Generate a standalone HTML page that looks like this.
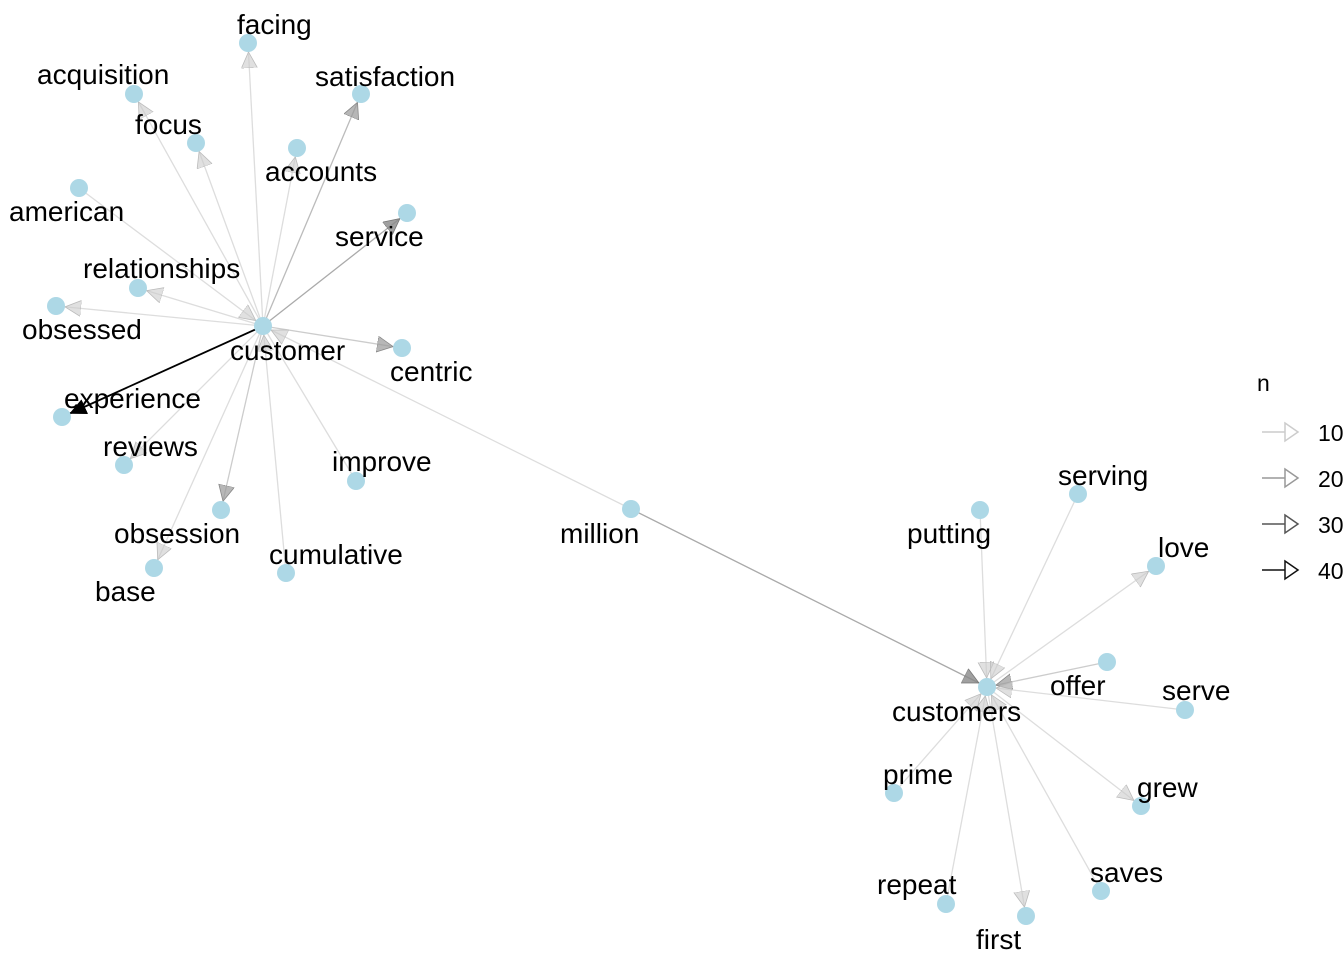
<!DOCTYPE html>
<html><head><meta charset="utf-8"><style>
html,body{margin:0;padding:0;background:#fff;}
svg{display:block;}
text{font-family:"Liberation Sans",Arial,sans-serif;font-size:28px;fill:#000;}
</style></head><body>
<svg width="1344" height="960" viewBox="0 0 1344 960" xmlns="http://www.w3.org/2000/svg">
<defs>
<marker id="aL" markerUnits="userSpaceOnUse" markerWidth="40" markerHeight="20" refX="25" refY="8" orient="auto"><path d="M0,0 L16,8 L0,16 Z" fill="#ccc" fill-opacity="0.6" stroke="#bbb" stroke-width="0.8"/></marker>
<marker id="aM" markerUnits="userSpaceOnUse" markerWidth="40" markerHeight="20" refX="25" refY="8" orient="auto"><path d="M0,0 L16,8 L0,16 Z" fill="#999" fill-opacity="0.7" stroke="#888" stroke-width="0.8"/></marker>
<marker id="aD" markerUnits="userSpaceOnUse" markerWidth="40" markerHeight="20" refX="25" refY="8" orient="auto"><path d="M0,0 L16,8 L0,16 Z" fill="#888" fill-opacity="0.8" stroke="#777" stroke-width="0.8"/></marker>
<marker id="aB" markerUnits="userSpaceOnUse" markerWidth="40" markerHeight="20" refX="25" refY="8" orient="auto"><path d="M0,0 L17,8 L0,16 Z" fill="#000"/></marker>
</defs>
<g stroke-width="1.3" fill="none">
<line x1="263" y1="326" x2="248" y2="43" stroke="#ddd" marker-end="url(#aL)"/>
<line x1="263" y1="326" x2="134" y2="94" stroke="#ddd" marker-end="url(#aL)"/>
<line x1="263" y1="326" x2="196" y2="143" stroke="#ddd" marker-end="url(#aL)"/>
<line x1="263" y1="326" x2="297" y2="148" stroke="#ddd" marker-end="url(#aL)"/>
<line x1="263" y1="326" x2="361" y2="94" stroke="#bbb" marker-end="url(#aM)"/>
<line x1="263" y1="326" x2="407" y2="213" stroke="#aaa" marker-end="url(#aD)"/>
<line x1="79" y1="188" x2="263" y2="326" stroke="#ddd" marker-end="url(#aL)"/>
<line x1="263" y1="326" x2="138" y2="288" stroke="#ddd" marker-end="url(#aL)"/>
<line x1="263" y1="326" x2="56" y2="306" stroke="#ddd" marker-end="url(#aL)"/>
<line x1="263" y1="326" x2="402" y2="348" stroke="#ccc" marker-end="url(#aM)"/>
<line x1="263" y1="326" x2="62" y2="417" stroke="#000" stroke-width="1.8" marker-end="url(#aB)"/>
<line x1="263" y1="326" x2="124" y2="465" stroke="#ddd" marker-end="url(#aL)"/>
<line x1="356" y1="481" x2="263" y2="326" stroke="#ddd"/>
<line x1="263" y1="326" x2="221" y2="510" stroke="#ccc" marker-end="url(#aM)"/>
<line x1="263" y1="326" x2="154" y2="568" stroke="#ddd" marker-end="url(#aL)"/>
<line x1="286" y1="573" x2="263" y2="326" stroke="#ddd" marker-end="url(#aL)"/>
<line x1="631" y1="509" x2="263" y2="326" stroke="#ddd" marker-end="url(#aL)"/>
<line x1="631" y1="509" x2="987" y2="687" stroke="#aaa" marker-end="url(#aD)"/>
<line x1="980" y1="510" x2="987" y2="687" stroke="#ddd" marker-end="url(#aL)"/>
<line x1="1078" y1="494" x2="987" y2="687" stroke="#ddd" marker-end="url(#aL)"/>
<line x1="987" y1="687" x2="1156" y2="566" stroke="#ddd" marker-end="url(#aL)"/>
<line x1="1107" y1="662" x2="987" y2="687" stroke="#ccc" marker-end="url(#aM)"/>
<line x1="1185" y1="710" x2="987" y2="687" stroke="#ddd" marker-end="url(#aL)"/>
<line x1="894" y1="793" x2="987" y2="687" stroke="#ddd" marker-end="url(#aL)"/>
<line x1="987" y1="687" x2="1141" y2="806" stroke="#ddd" marker-end="url(#aL)"/>
<line x1="946" y1="904" x2="987" y2="687" stroke="#ddd" marker-end="url(#aL)"/>
<line x1="987" y1="687" x2="1026" y2="916" stroke="#ddd" marker-end="url(#aL)"/>
<line x1="1101" y1="891" x2="987" y2="687" stroke="#ddd" marker-end="url(#aL)"/>
</g>
<g fill="#add8e6">
<circle cx="263" cy="326" r="9"/><circle cx="987" cy="687" r="9"/><circle cx="631" cy="509" r="9"/>
<circle cx="248" cy="43" r="9"/><circle cx="134" cy="94" r="9"/><circle cx="361" cy="94" r="9"/>
<circle cx="196" cy="143" r="9"/><circle cx="297" cy="148" r="9"/><circle cx="79" cy="188" r="9"/>
<circle cx="407" cy="213" r="9"/><circle cx="138" cy="288" r="9"/><circle cx="56" cy="306" r="9"/>
<circle cx="402" cy="348" r="9"/><circle cx="62" cy="417" r="9"/><circle cx="124" cy="465" r="9"/>
<circle cx="356" cy="481" r="9"/><circle cx="221" cy="510" r="9"/><circle cx="154" cy="568" r="9"/>
<circle cx="286" cy="573" r="9"/>
<circle cx="980" cy="510" r="9"/><circle cx="1078" cy="494" r="9"/><circle cx="1156" cy="566" r="9"/>
<circle cx="1107" cy="662" r="9"/><circle cx="1185" cy="710" r="9"/><circle cx="894" cy="793" r="9"/>
<circle cx="1141" cy="806" r="9"/><circle cx="946" cy="904" r="9"/><circle cx="1101" cy="891" r="9"/>
<circle cx="1026" cy="916" r="9"/>
</g>
<g>
<text x="237" y="34">facing</text>
<text x="37" y="84">acquisition</text>
<text x="315" y="86">satisfaction</text>
<text x="135" y="134">focus</text>
<text x="265" y="181">accounts</text>
<text x="9" y="221">american</text>
<text x="335" y="246">service</text>
<text x="83" y="278">relationships</text>
<text x="22" y="339">obsessed</text>
<text x="230" y="360">customer</text>
<text x="390" y="381">centric</text>
<text x="64" y="408">experience</text>
<text x="103" y="456">reviews</text>
<text x="332" y="471">improve</text>
<text x="560" y="543">million</text>
<text x="114" y="543">obsession</text>
<text x="269" y="564">cumulative</text>
<text x="95" y="601">base</text>
<text x="1058" y="485">serving</text>
<text x="907" y="543">putting</text>
<text x="1158" y="557">love</text>
<text x="1050" y="695">offer</text>
<text x="1162" y="700">serve</text>
<text x="892" y="721">customers</text>
<text x="883" y="784">prime</text>
<text x="1137" y="797">grew</text>
<text x="1090" y="882">saves</text>
<text x="877" y="894">repeat</text>
<text x="976" y="949">first</text>
</g>
<g>
<text x="1257" y="391" style="font-size:23px">n</text>
<g fill="none" stroke-width="1.5">
<line x1="1262" y1="432" x2="1285" y2="432" stroke="#ccc"/><path d="M1285,423 L1298,432 L1285,441 Z" stroke="#ccc"/>
<line x1="1262" y1="478" x2="1285" y2="478" stroke="#999"/><path d="M1285,469 L1298,478 L1285,487 Z" stroke="#999"/>
<line x1="1262" y1="524" x2="1285" y2="524" stroke="#555"/><path d="M1285,515 L1298,524 L1285,533 Z" stroke="#555"/>
<line x1="1262" y1="570" x2="1285" y2="570" stroke="#111"/><path d="M1285,561 L1298,570 L1285,579 Z" stroke="#111"/>
</g>
<text x="1318" y="441" style="font-size:23px">10</text>
<text x="1318" y="487" style="font-size:23px">20</text>
<text x="1318" y="533" style="font-size:23px">30</text>
<text x="1318" y="579" style="font-size:23px">40</text>
</g>
</svg>
</body></html>
